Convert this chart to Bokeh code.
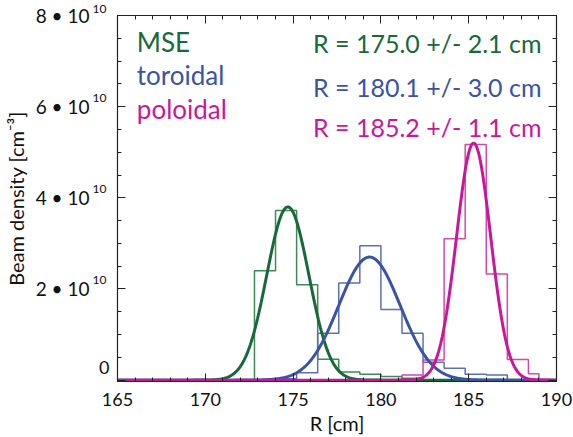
import numpy as np
from bokeh.plotting import figure
from bokeh.models import Range1d, LinearAxis, FixedTicker, Label
from bokeh.embed import file_html
from bokeh.resources import INLINE

# ---------------- data ----------------
# histogram bin edges (cm) and heights (1e10 cm^-3)
mse_edges = [172.8, 174.0, 175.2, 176.4, 177.6, 178.8, 180.0, 181.2, 182.4]
mse_counts = [2.40, 3.72, 2.09, 0.46, 0.18, 0.13, 0.08, 0.04]

tor_edges = [174.0, 175.2, 176.4, 177.6, 178.8, 180.0, 181.2, 182.4, 183.6, 184.8, 186.0, 187.2]
tor_counts = [0.03, 0.16, 1.03, 2.13, 2.95, 1.55, 1.03, 0.39, 0.26, 0.13, 0.11]

pol_edges = [181.2, 182.4, 183.6, 184.8, 186.0, 187.2, 188.4, 189.0]
pol_counts = [0.11, 0.44, 3.10, 5.17, 2.33, 0.45, 0.14]

# Gaussian fits: amplitude (1e10 cm^-3), centre (cm), sigma (cm)
fit_amp = {"MSE": 3.80, "toroidal": 2.70, "poloidal": 5.20}
fit_center = {"MSE": 174.7, "toroidal": 179.35, "poloidal": 185.28}
fit_sigma = {"MSE": 1.20, "toroidal": 1.75, "poloidal": 0.97}

series = ["MSE", "toroidal", "poloidal"]
result_texts = ["R = 175.0 +/- 2.1 cm", "R = 180.1 +/- 3.0 cm", "R = 185.2 +/- 1.1 cm"]

x_ticks = [165, 170, 175, 180, 185, 190]
y_ticks = [0, 2e10, 4e10, 6e10, 8e10]
y_tick_mantissa = ["0", "2", "4", "6", "8"]
y_tick_exponent = ["", "10", "10", "10", "10"]
x_label = "R [cm]"
y_label = "Beam density [cm⁻³]"

# ---------------- style ----------------
curve_colors = {"MSE": "#17693a", "toroidal": "#3a53a4", "poloidal": "#c8189a"}
hist_colors = {"MSE": "#3e8a56", "toroidal": "#5a70b8", "poloidal": "#d04aa9"}
FONT = "Lato"
INK = "#111111"
FIG = "\u2007"   # figure space (keeps a blank second line)

Y0, Y1 = -0.03e10, 8e10
p = figure(width=573, height=437, output_backend="svg", toolbar_location=None,
           x_range=Range1d(165, 190), y_range=Range1d(Y0, Y1),
           min_border_left=112, min_border_right=17, min_border_top=15,
           min_border_bottom=56)
p.grid.visible = False
p.outline_line_color = "#222222"
p.outline_line_width = 1.2


def style_axis(ax):
    ax.axis_line_color = "#222222"
    ax.major_tick_line_color = "#222222"
    ax.minor_tick_line_color = "#222222"
    ax.major_tick_in = 8
    ax.major_tick_out = 0
    ax.minor_tick_in = 4
    ax.minor_tick_out = 0
    ax.major_label_text_font = FONT
    ax.major_label_text_color = INK
    ax.axis_label_text_font = FONT
    ax.axis_label_text_font_style = "normal"
    ax.axis_label_text_color = INK


def hide_lines(ax):
    ax.axis_line_color = None
    ax.major_tick_line_color = None
    ax.minor_tick_line_color = None
    ax.major_tick_in = 0
    ax.major_tick_out = 0
    ax.minor_tick_in = 0
    ax.minor_tick_out = 0


def xticker():
    return FixedTicker(ticks=x_ticks, minor_ticks=list(range(165, 191)))


def yticker():
    return FixedTicker(ticks=y_ticks, minor_ticks=[k * 0.5e10 for k in range(17)])


# bottom axis
xa = p.xaxis[0]
xa.ticker = xticker()
style_axis(xa)
xa.major_label_text_font_size = "18px"
xa.major_label_standoff = 11
xa.axis_label = x_label
xa.axis_label_text_font_size = "20px"
xa.axis_label_standoff = 2

# left, nearest the frame: tick marks and the plain "0" label
ya = p.yaxis[0]
ya.ticker = yticker()
style_axis(ya)
ya.major_label_overrides = {t: ("" if e else m + "\n" + FIG)
                            for t, m, e in zip(y_ticks, y_tick_mantissa, y_tick_exponent)}
ya.major_label_text_font_size = "18px"
ya.major_label_standoff = 8

# left: superscript exponents (raised by a blank second line)
sup_axis = LinearAxis(ticker=FixedTicker(ticks=y_ticks))
style_axis(sup_axis)
hide_lines(sup_axis)
sup_axis.major_label_overrides = {t: (e + "\n" + FIG if e else "")
                                  for t, e in zip(y_ticks, y_tick_exponent)}
sup_axis.major_label_text_font_size = "12px"
sup_axis.major_label_standoff = -10
p.add_layout(sup_axis, "left")

# left: mantissa "n • 10" and axis title
man_axis = LinearAxis(ticker=FixedTicker(ticks=y_ticks))
style_axis(man_axis)
hide_lines(man_axis)
man_axis.major_label_overrides = {t: (m + " • 10" if e else "")
                                  for t, m, e in zip(y_ticks, y_tick_mantissa, y_tick_exponent)}
man_axis.major_label_text_font_size = "19px"
man_axis.major_label_standoff = 0
man_axis.axis_label = y_label
man_axis.axis_label_text_font_size = "20px"
man_axis.axis_label_standoff = 5
p.add_layout(man_axis, "left")

# mirrored tick marks on top and right
top = LinearAxis(ticker=xticker())
style_axis(top)
top.major_label_overrides = {t: "" for t in x_ticks}
top.major_label_standoff = 0
p.add_layout(top, "above")

right = LinearAxis(ticker=yticker())
style_axis(right)
right.major_label_overrides = {t: "" for t in y_ticks}
right.major_label_standoff = 0
p.add_layout(right, "right")


def step_outline(edges, counts):
    xs, ys = [edges[0]], [0.0]
    for i, c in enumerate(counts):
        xs += [edges[i], edges[i + 1]]
        ys += [c * 1e10, c * 1e10]
    xs.append(edges[-1])
    ys.append(0.0)
    return xs, ys


hists = {"MSE": (mse_edges, mse_counts), "toroidal": (tor_edges, tor_counts),
         "poloidal": (pol_edges, pol_counts)}
for s in series:
    hx, hy = step_outline(*hists[s])
    p.line(hx, hy, line_color=hist_colors[s], line_width=1.5)

xs = np.linspace(165, 190, 600)
for s in series:
    ys = fit_amp[s] * 1e10 * np.exp(-(xs - fit_center[s]) ** 2 / (2 * fit_sigma[s] ** 2))
    p.line(xs, ys, line_color=curve_colors[s], line_width=3)

# legend-like labels
legend_y = [7.41e10, 6.69e10, 5.95e10]
result_y = [7.40e10, 6.44e10, 5.56e10]
for s, ly in zip(series, legend_y):
    p.add_layout(Label(x=166.1, y=ly, text=s, text_font=FONT, text_font_size="26px",
                       text_color=curve_colors[s], text_baseline="alphabetic"))
for s, t, ry in zip(series, result_texts, result_y):
    p.add_layout(Label(x=176.13, y=ry, text=t, text_font=FONT, text_font_size="25px",
                       text_color=curve_colors[s], text_baseline="alphabetic"))

open("out.html", "w").write(file_html(p, INLINE))
